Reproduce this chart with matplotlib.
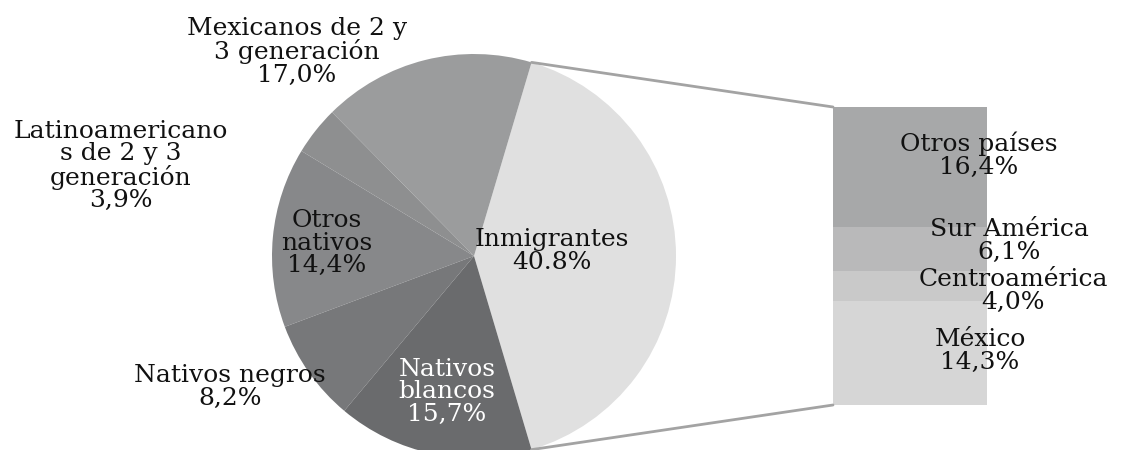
import numpy as np
import matplotlib.pyplot as plt
from matplotlib.patches import ConnectionPatch

plt.rcParams['font.family'] = ['DejaVu Serif']

# Data: population shares (%)
pie_labels = ['Inmigrantes\n40.8%',
              'Mexicanos de 2 y\n3 generación\n17,0%',
              'Latinoamericano\ns de 2 y 3\ngeneración\n3,9%',
              'Otros\nnativos\n14,4%',
              'Nativos negros\n8,2%',
              'Nativos\nblancos\n15,7%']
pie_values = [40.8, 17.0, 3.9, 14.4, 8.2, 15.7]
pie_colors = ['#e0e0e0', '#9b9c9d', '#8e8f90', '#87888a', '#77787a', '#6a6b6d']

bar_labels = ['México\n14,3%', 'Centroamérica\n4,0%', 'Sur América\n6,1%', 'Otros países\n16,4%']
bar_values = [14.3, 4.0, 6.1, 16.4]
bar_colors = ['#d6d6d6', '#c9c9c9', '#b9b9ba', '#a7a8a9']

W, H = 1123, 450
fig = plt.figure(figsize=(W / 100, H / 100), dpi=100)

# pie axes (center ~ (474,256) px, radius ~202 px)
cx, cy, r = 474, 256, 202
ax1 = fig.add_axes([(cx - r) / W, (H - cy - r) / H, 2 * r / W, 2 * r / H])
frac0 = pie_values[0] / sum(pie_values)
start = -frac0 * 180
wedges, _ = ax1.pie(pie_values, colors=pie_colors, startangle=start,
                    counterclock=True, radius=1,
                    wedgeprops=dict(linewidth=0))
ax1.set_xlim(-1, 1)
ax1.set_ylim(-1, 1)
ax1.axis('off')

FS = 18
LS = 0.98

# label centers in px
pie_label_px = [(552, 251), (297, 52), (121, 166), (327, 243), (230, 387), (447, 392)]
pie_text_colors = ['#111111', '#111111', '#111111', '#111111', '#111111', '#ffffff']
for lab, (px, py), tc in zip(pie_labels, pie_label_px, pie_text_colors):
    ax1.text((px - cx) / r, (cy - py) / r, lab, ha='center', va='center',
             fontsize=FS, color=tc, linespacing=LS, clip_on=False)

# stacked bar axes
bx0, bx1, by0, by1 = 833, 987, 107, 405
ax2 = fig.add_axes([bx0 / W, (H - by1) / H, (bx1 - bx0) / W, (by1 - by0) / H])
bottom = 0
for v, c in zip(bar_values, bar_colors):
    ax2.bar(0, v, width=1, bottom=bottom, color=c, linewidth=0)
    bottom += v
total = sum(bar_values)
ax2.set_xlim(-0.5, 0.5)
ax2.set_ylim(0, total)
ax2.axis('off')

scale = (by1 - by0) / total
bar_label_px = [(980, 351), (1013, 291), (1009, 241), (979, 155)]
for lab, (px, py) in zip(bar_labels, bar_label_px):
    ax2.text((px - bx0) / (bx1 - bx0) - 0.5, (by1 - py) / scale, lab,
             ha='center', va='center', fontsize=FS, color='#111111',
             linespacing=LS, clip_on=False)

# connector lines
theta = np.deg2rad(frac0 * 180)
for sgn, yb in [(1, total), (-1, 0)]:
    con = ConnectionPatch(xyA=(np.cos(theta), sgn * np.sin(theta)), coordsA=ax1.transData,
                          xyB=(-0.5, yb), coordsB=ax2.transData,
                          color='#a3a3a3', linewidth=2)
    fig.add_artist(con)

fig.savefig('out.png', dpi=100)
